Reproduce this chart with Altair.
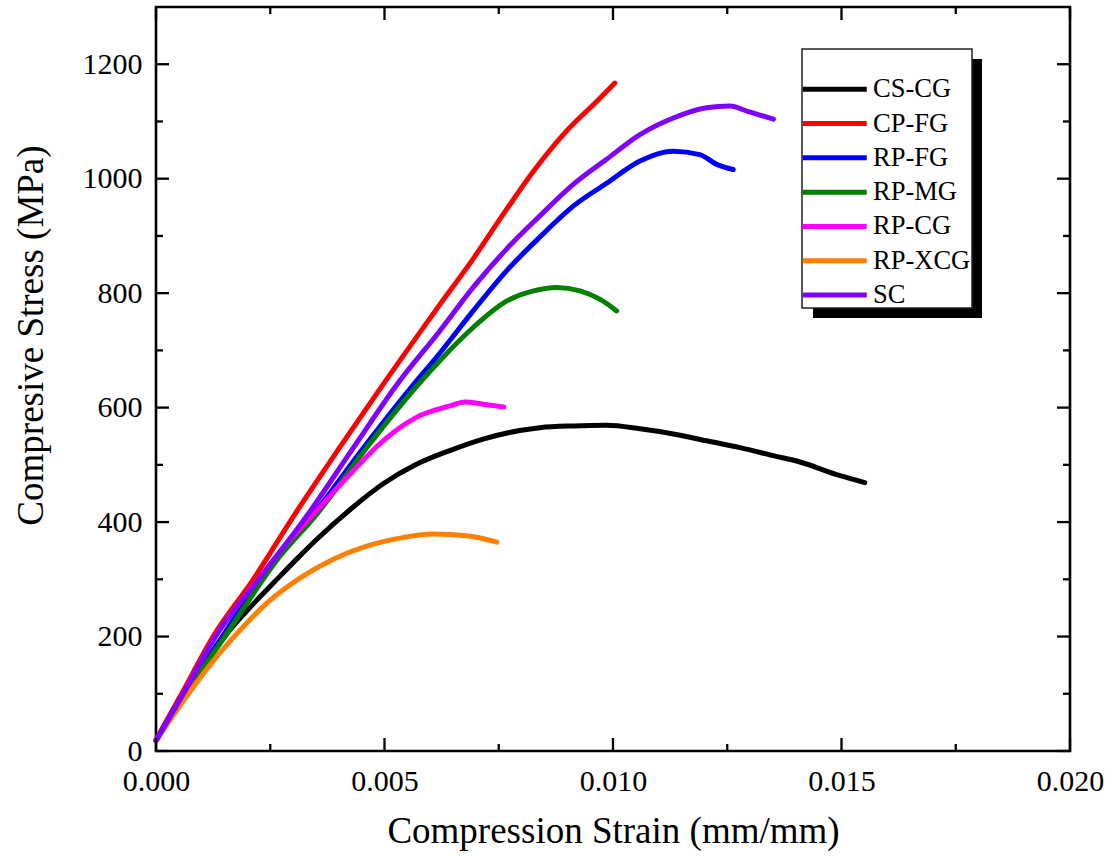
import altair as alt
import pandas as pd

# ---- data ----
series_names = ["CS-CG", "CP-FG", "RP-FG", "RP-MG", "RP-CG", "RP-XCG", "SC"]
series_colors = ["#000000", "#FF0000", "#0000FF", "#008000", "#FF00FF", "#FF8000", "#8000FF"]

cs_cg_x = [0.0, 0.0006, 0.0013, 0.00213, 0.0026, 0.0031, 0.00352, 0.00425, 0.00497, 0.0057, 0.00643,
           0.00716, 0.00796, 0.0084, 0.00913, 0.00986, 0.01059, 0.01132, 0.01205, 0.01278, 0.01351,
           0.01409, 0.01497, 0.01551]
cs_cg_y = [18, 95, 180, 257, 296, 337, 370, 422, 467, 501, 525, 545, 560, 565, 568, 569, 563, 554,
           542, 530, 516, 505, 481, 469]

cp_fg_x = [0.0, 0.00056, 0.00125, 0.00213, 0.00304, 0.00399, 0.00494, 0.00621, 0.00694, 0.0076,
           0.00826, 0.00898, 0.00972, 0.01004]
cp_fg_y = [20, 100, 200, 300, 414, 527, 637, 780, 860, 938, 1013, 1083, 1141, 1167]

rp_fg_x = [0.0, 0.0006, 0.00145, 0.00255, 0.00345, 0.00454, 0.00563, 0.00621, 0.00694, 0.00767,
           0.0084, 0.00913, 0.00986, 0.01059, 0.01132, 0.0119, 0.01227, 0.01263]
rp_fg_y = [18, 100, 200, 330, 414, 530, 640, 695, 769, 839, 898, 952, 992, 1031, 1048, 1042, 1025, 1016]

rp_mg_x = [0.0, 0.0006, 0.00151, 0.00264, 0.00352, 0.00461, 0.00581, 0.00621, 0.00694, 0.00767,
           0.00826, 0.00877, 0.00928, 0.00972, 0.01008]
rp_mg_y = [18, 95, 200, 333, 414, 530, 647, 682, 740, 786, 804, 810, 804, 789, 769]

rp_cg_x = [0.0, 0.0006, 0.0013, 0.00228, 0.00279, 0.00352, 0.00425, 0.00497, 0.0057, 0.00643,
           0.00676, 0.00716, 0.00761]
rp_cg_y = [18, 100, 200, 304, 356, 420, 484, 542, 583, 603, 610, 606, 601]

rp_xcg_x = [0.0, 0.00071, 0.00118, 0.00177, 0.00242, 0.00315, 0.00388, 0.00461, 0.00534, 0.00607,
            0.0068, 0.00746]
rp_xcg_y = [18, 100, 150, 205, 258, 302, 335, 358, 372, 379, 376, 365]

sc_x = [0.0, 0.0006, 0.0013, 0.00225, 0.00333, 0.00432, 0.00527, 0.00621, 0.00694, 0.00767, 0.0084,
        0.00913, 0.00986, 0.01059, 0.01132, 0.01205, 0.01256, 0.01293, 0.01351]
sc_y = [18, 100, 200, 300, 414, 530, 640, 734, 810, 877, 935, 990, 1034, 1077, 1106, 1124, 1127,
        1118, 1104]

x_major = [0.0, 0.005, 0.010, 0.015, 0.020]
x_minor = [0.0025, 0.0075, 0.0125, 0.0175]
y_major = [0, 200, 400, 600, 800, 1000, 1200]
y_minor = [100, 300, 500, 700, 900, 1100]

# ---- build table ----
all_x = [cs_cg_x, cp_fg_x, rp_fg_x, rp_mg_x, rp_cg_x, rp_xcg_x, sc_x]
all_y = [cs_cg_y, cp_fg_y, rp_fg_y, rp_mg_y, rp_cg_y, rp_xcg_y, sc_y]
rows = []
for order, (name, xs, ys) in enumerate(zip(series_names, all_x, all_y)):
    for xv, yv in zip(xs, ys):
        rows.append({"series": name, "strain": xv, "stress": yv, "o": order})
df = pd.DataFrame(rows)

W, H = 914, 744
FONT = "Liberation Serif"
xscale = alt.Scale(domain=[0, 0.02], nice=False, zero=False)
yscale = alt.Scale(domain=[0, 1300], nice=False, zero=False)

xaxis = alt.Axis(values=x_major, format=".3f", title="Compression Strain (mm/mm)",
                 grid=False, ticks=False, tickSize=0, domain=False,
                 labelFont=FONT, labelFontSize=30, labelColor="black",
                 labelPadding=15, labelFlush=False, labelOverlap=False,
                 titleFont=FONT, titleFontSize=37, titleFontWeight="normal",
                 titleColor="black", titleX=457, titleY=91,
                 titleBaseline="alphabetic", titleAlign="center")
yaxis = alt.Axis(values=y_major, format="d", title="Compresive Stress (MPa)",
                 grid=False, ticks=False, tickSize=0, domain=False,
                 labelFont=FONT, labelFontSize=30, labelColor="black",
                 labelPadding=14, labelFlush=False, labelOverlap=False,
                 titleFont=FONT, titleFontSize=37, titleFontWeight="normal",
                 titleColor="black", titleX=-114, titleY=328, titleAngle=270,
                 titleBaseline="alphabetic", titleAlign="center")

# wide horizontal stroke symbol: path spans 6.4 x radius, radius = sqrt(size)/2 = 10 -> 64 px
legend_symbol = "M-3.2,0H3.2"

lines = alt.Chart(df).mark_line(
    strokeWidth=5, interpolate="monotone", strokeCap="round", strokeJoin="round"
).encode(
    x=alt.X("strain:Q", scale=xscale, axis=xaxis),
    y=alt.Y("stress:Q", scale=yscale, axis=yaxis),
    color=alt.Color("series:N",
                    scale=alt.Scale(domain=series_names, range=series_colors),
                    legend=alt.Legend(orient="none", legendX=665.5, legendY=69, title=None,
                                      symbolType=legend_symbol, symbolSize=400,
                                      symbolStrokeWidth=5, labelFont=FONT,
                                      labelFontSize=26.5, labelColor="black",
                                      rowPadding=7.3, labelOffset=25, padding=0)),
    order=alt.Order("o:Q"),
)

one = pd.DataFrame({"k": [0]})
shadow = alt.Chart(one).mark_rect(color="black").encode(
    x=alt.value(657), x2=alt.value(826), y=alt.value(52), y2=alt.value(311))
box = alt.Chart(one).mark_rect(fill="white", stroke="#222222", strokeWidth=1.5).encode(
    x=alt.value(646), x2=alt.value(816), y=alt.value(42), y2=alt.value(301))


def tick_layer(values, field_channel, a, b, width):
    if field_channel == "x":
        d = pd.DataFrame({"strain": values})
        return alt.Chart(d).mark_rule(color="black", strokeWidth=width).encode(
            x=alt.X("strain:Q", scale=xscale, axis=xaxis), y=alt.value(a), y2=alt.value(b))
    d = pd.DataFrame({"stress": values})
    return alt.Chart(d).mark_rule(color="black", strokeWidth=width).encode(
        y=alt.Y("stress:Q", scale=yscale, axis=yaxis), x=alt.value(a), x2=alt.value(b))


MAJ, MIN = 13, 7
ticks = [
    tick_layer(x_major, "x", H, H - MAJ, 2.3),
    tick_layer(x_major, "x", 0, MAJ, 2.3),
    tick_layer(x_minor, "x", H, H - MIN, 2.3),
    tick_layer(x_minor, "x", 0, MIN, 2.3),
    tick_layer(y_major, "y", 0, MAJ, 2.3),
    tick_layer(y_major, "y", W, W - MAJ, 2.3),
    tick_layer(y_minor, "y", 0, MIN, 2.3),
    tick_layer(y_minor, "y", W, W - MIN, 2.3),
]

chart = alt.layer(lines, *ticks, shadow, box).properties(
    width=W, height=H,
    autosize=alt.AutoSizeParams(type="none"),
    padding={"left": 156, "top": 7, "right": 41, "bottom": 105},
    background="white",
).configure_view(stroke="black", strokeWidth=2.6)

chart.save("out.html", embed_options={"renderer": "svg", "actions": False})
